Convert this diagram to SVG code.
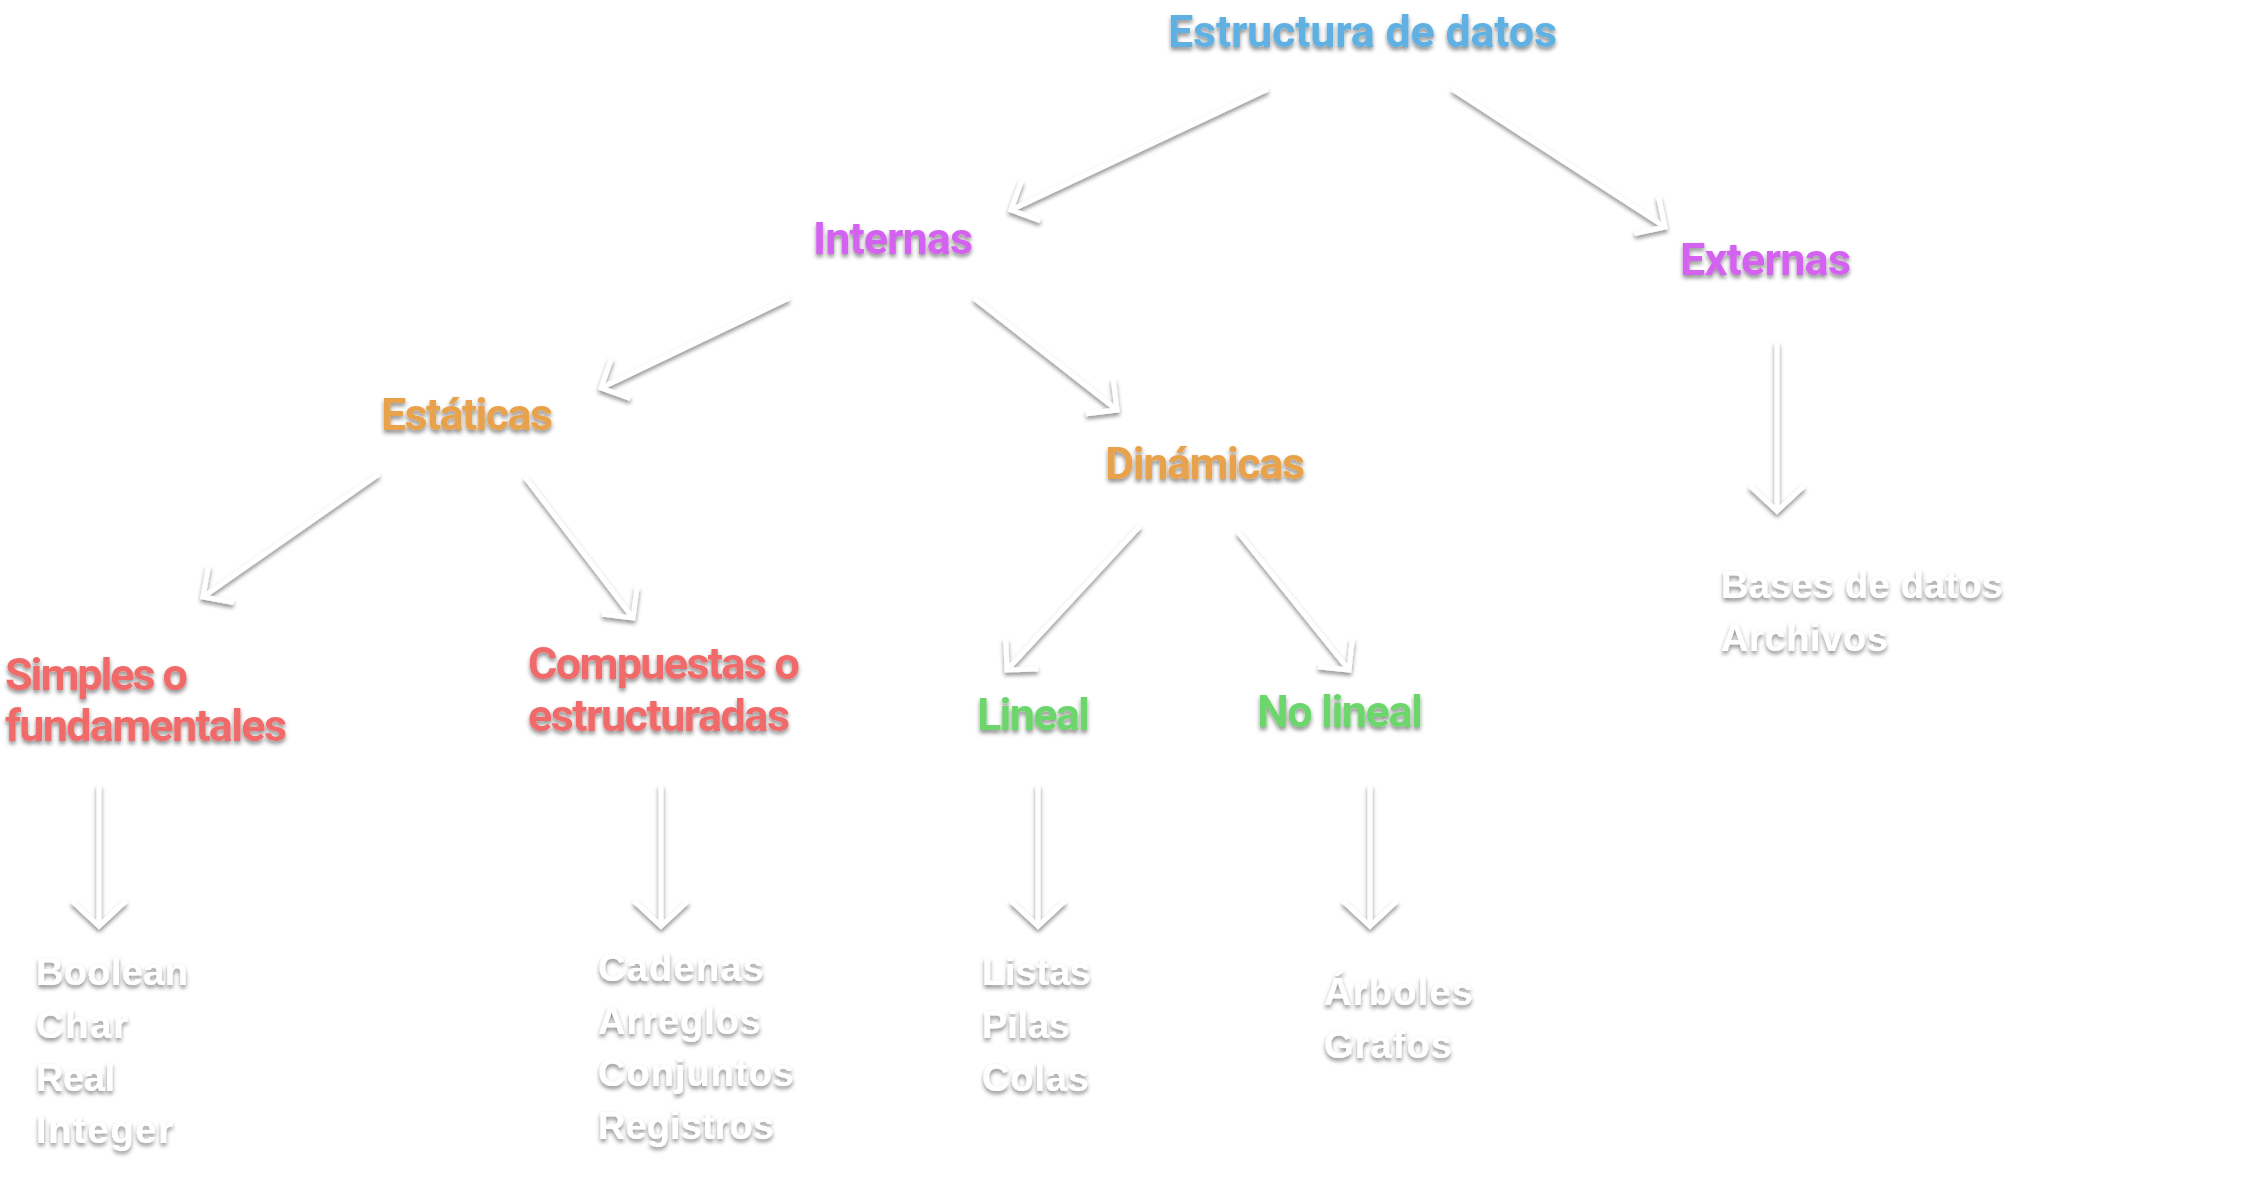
<svg xmlns="http://www.w3.org/2000/svg" width="2255" height="1192" viewBox="0 0 2255 1192">
  <style>
    .lbl { font-family: Roboto, "Liberation Sans", sans-serif; font-weight: 700; font-size: 45px; }
    .item { font-family: "Liberation Sans", Arial, sans-serif; font-weight: 700; font-size: 38px; fill: #ffffff; }
    .blue { fill: #60b1e1; }
    .purple { fill: #d462f0; }
    .orange { fill: #e8a24c; }
    .red { fill: #f06b6b; }
    .green { fill: #6cd66c; }
    .conn line { stroke: #ffffff; stroke-width: 5; fill: none; }
    .head { stroke: #ffffff; stroke-width: 5; fill: none; stroke-linejoin: miter; }
  </style>
  <defs>
    <filter id="sh" filterUnits="userSpaceOnUse" x="0" y="0" width="2255" height="1192">
      <feDropShadow dx="0" dy="3" stdDeviation="2" flood-color="#000000" flood-opacity="0.45"/>
    </filter>
    <marker id="chev" markerUnits="userSpaceOnUse" viewBox="-40 -40 80 80" refX="0" refY="0" markerWidth="80" markerHeight="80" orient="auto" overflow="visible">
      <path class="head" d="M-22,-22 L0,0 L-22,22"/>
    </marker>
    <marker id="chevV" markerUnits="userSpaceOnUse" viewBox="-40 -40 80 80" refX="0" refY="0" markerWidth="80" markerHeight="80" orient="auto" overflow="visible">
      <path class="head" d="M-25,-27 L0,0 L-25,27"/>
    </marker>
  </defs>
  <rect x="0" y="0" width="2255" height="1192" fill="#ffffff"/>

  <g id="connectors" class="conn" filter="url(#sh)">
    <line x1="1268" y1="89" x2="1011" y2="210" marker-end="url(#chev)"/>
    <line x1="1452" y1="89" x2="1665" y2="227" marker-end="url(#chev)"/>
    <line x1="789" y1="298" x2="601" y2="388" marker-end="url(#chev)"/>
    <line x1="974" y1="298" x2="1117" y2="410" marker-end="url(#chev)"/>
    <line x1="379" y1="474" x2="203" y2="597" marker-end="url(#chev)"/>
    <line x1="525" y1="477" x2="633" y2="618" marker-end="url(#chev)"/>
    <line x1="1140" y1="526" x2="1007" y2="670" marker-end="url(#chev)"/>
    <line x1="1238" y1="532" x2="1349" y2="670" marker-end="url(#chev)"/>
    <line x1="1777" y1="342" x2="1777" y2="511" marker-end="url(#chevV)"/>
    <line x1="99" y1="785" x2="99" y2="926" marker-end="url(#chevV)"/>
    <line x1="661" y1="785" x2="661" y2="926" marker-end="url(#chevV)"/>
    <line x1="1038" y1="785" x2="1038" y2="926" marker-end="url(#chevV)"/>
    <line x1="1370" y1="785" x2="1370" y2="926" marker-end="url(#chevV)"/>
  </g>

  <g id="node-estructura" filter="url(#sh)">
    <text class="lbl blue" x="1168" y="47" textLength="389">Estructura de datos</text>
  </g>
  <g id="node-internas" filter="url(#sh)">
    <text class="lbl purple" x="813" y="254" textLength="160">Internas</text>
  </g>
  <g id="node-externas" filter="url(#sh)">
    <text class="lbl purple" x="1680" y="275" textLength="171">Externas</text>
  </g>
  <g id="node-estaticas" filter="url(#sh)">
    <text class="lbl orange" x="381" y="430" textLength="172">Estáticas</text>
  </g>
  <g id="node-dinamicas" filter="url(#sh)">
    <text class="lbl orange" x="1105" y="479" textLength="200">Dinámicas</text>
  </g>
  <g id="node-simples" filter="url(#sh)">
    <text class="lbl red" x="5" y="690" textLength="183">Simples o</text>
    <text class="lbl red" x="5" y="741" textLength="282">fundamentales</text>
  </g>
  <g id="node-compuestas" filter="url(#sh)">
    <text class="lbl red" x="528" y="679" textLength="272">Compuestas o</text>
    <text class="lbl red" x="528" y="731" textLength="262">estructuradas</text>
  </g>
  <g id="node-lineal" filter="url(#sh)">
    <text class="lbl green" x="977" y="730" textLength="113">Lineal</text>
  </g>
  <g id="node-nolineal" filter="url(#sh)">
    <text class="lbl green" x="1257" y="727" textLength="166">No lineal</text>
  </g>

  <g id="node-externas-items" filter="url(#sh)">
    <text class="item" x="1721" y="598" textLength="282">Bases de datos</text>
    <text class="item" x="1721" y="651" textLength="167">Archivos</text>
  </g>
  <g id="node-simples-items" filter="url(#sh)">
    <text class="item" x="36" y="985" textLength="152">Boolean</text>
    <text class="item" x="36" y="1038" textLength="92">Char</text>
    <text class="item" x="36" y="1091" textLength="79">Real</text>
    <text class="item" x="36" y="1143" textLength="137">Integer</text>
  </g>
  <g id="node-compuestas-items" filter="url(#sh)">
    <text class="item" x="598" y="981" textLength="166">Cadenas</text>
    <text class="item" x="598" y="1034" textLength="163">Arreglos</text>
    <text class="item" x="598" y="1086" textLength="196">Conjuntos</text>
    <text class="item" x="598" y="1139" textLength="176">Registros</text>
  </g>
  <g id="node-lineal-items" filter="url(#sh)">
    <text class="item" x="982" y="985" textLength="109">Listas</text>
    <text class="item" x="982" y="1038" textLength="88">Pilas</text>
    <text class="item" x="982" y="1091" textLength="107">Colas</text>
  </g>
  <g id="node-nolineal-items" filter="url(#sh)">
    <text class="item" x="1324" y="1005" textLength="149">Árboles</text>
    <text class="item" x="1324" y="1058" textLength="128">Grafos</text>
  </g>
</svg>
